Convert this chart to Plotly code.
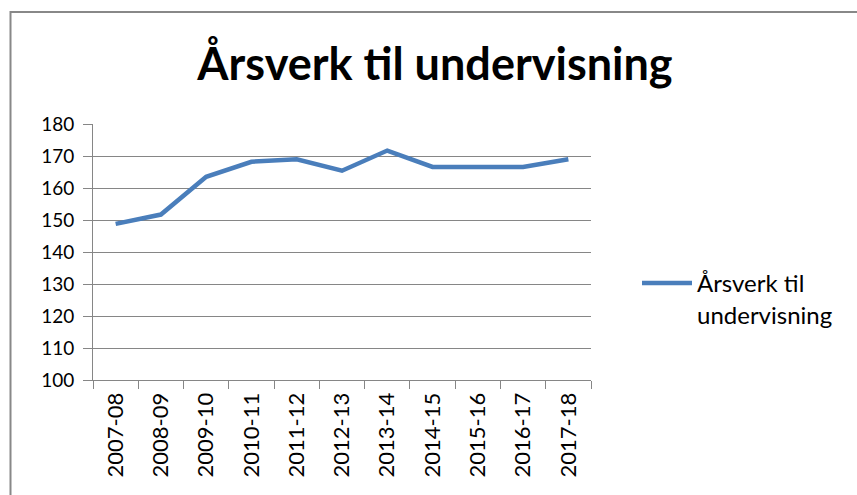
import plotly.graph_objects as go

categories = ["2007-08", "2008-09", "2009-10", "2010-11", "2011-12", "2012-13",
              "2013-14", "2014-15", "2015-16", "2016-17", "2017-18"]
values = [148.8, 151.7, 163.5, 168.2, 169.0, 165.4, 171.7, 166.6, 166.6, 166.6, 169.0]
series_name = "Årsverk til undervisning"
legend_label = "Årsverk til<br>undervisning"
y_ticks = [100, 110, 120, 130, 140, 150, 160, 170, 180]

W, H = 857, 495
L, R, T, B = 93, 591, 124, 380
pw, ph = R - L, B - T

def px_x(p):
    return (p - L) / pw

def px_y(p):
    return (B - p) / ph

font = "Lato, 'Liberation Sans', sans-serif"

fig = go.Figure()
fig.add_trace(go.Scatter(
    x=categories, y=values, mode="lines", name=legend_label,
    line=dict(color="#4a7ebb", width=4.5),
))

fig.update_layout(
    width=W, height=H,
    margin=dict(l=L, r=W - R, t=T, b=H - B, pad=0, autoexpand=False),
    paper_bgcolor="white", plot_bgcolor="white",
    font=dict(family=font, size=18, color="#000000"),
    title=dict(text="<b>" + series_name + "</b>", x=435 / W, xref="container", xanchor="center",
               y=1 - 64 / H, yref="container", yanchor="middle",
               font=dict(size=45, family=font, color="#000000")),
    showlegend=True,
    legend=dict(x=px_x(637), y=px_y(261), xanchor="left", yanchor="top", valign="top",
                font=dict(size=24, family=font, color="#000000"),
                bgcolor="rgba(0,0,0,0)", itemwidth=50, tracegroupgap=0),
    xaxis=dict(type="category", tickangle=-90, showgrid=False, automargin=False,
               showline=True, linecolor="#868686", linewidth=1,
               ticks="outside", tickson="boundaries", ticklen=8, tickcolor="#868686",
               ticklabelstandoff=3,
               tickfont=dict(size=22, family=font, color="#000000"),
               range=[-0.5, len(categories) - 0.5]),
    yaxis=dict(range=[100, 180], tickvals=y_ticks, showgrid=True, gridcolor="#868686",
               gridwidth=1, showline=True, linecolor="#868686", linewidth=1, automargin=False,
               ticks="outside", ticklen=9, tickcolor="#868686", ticklabelstandoff=5,
               tickfont=dict(size=19, family=font, color="#000000"), zeroline=False),
    shapes=[dict(type="rect", xref="paper", yref="paper",
                 x0=px_x(10.5), x1=px_x(880), y0=px_y(12), y1=px_y(520),
                 line=dict(color="#888888", width=2), fillcolor="rgba(0,0,0,0)", layer="below")],
)

fig.write_html("out.html", config={"displayModeBar": False},
               post_script="document.body.style.margin='0';document.body.style.overflow='hidden';")
